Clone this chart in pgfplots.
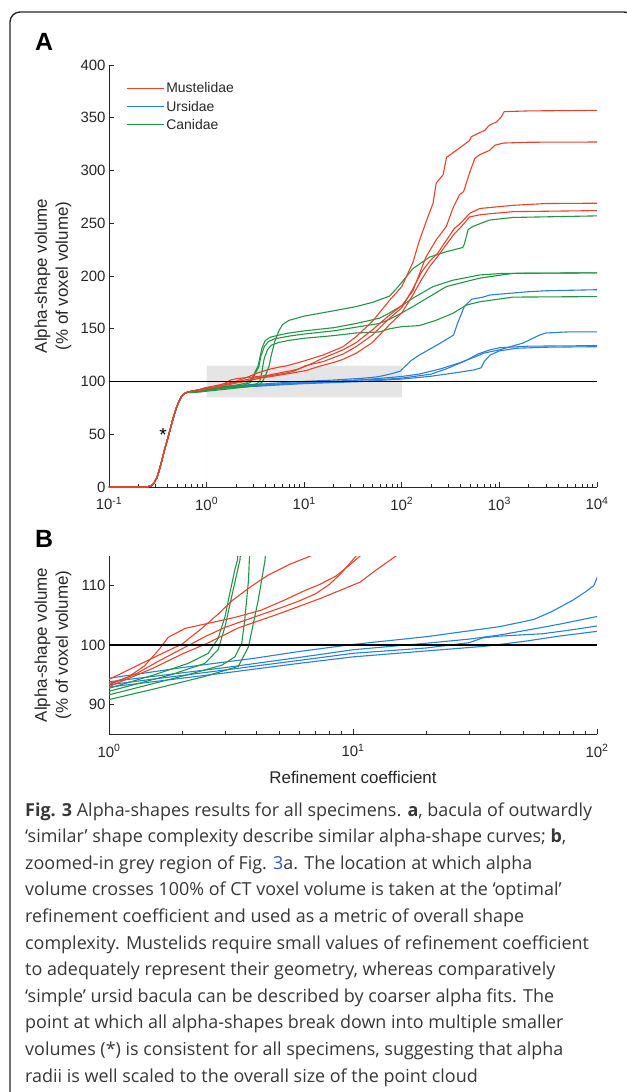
\documentclass[border=0pt]{standalone}
\usepackage{fontspec}
\setmainfont{Liberation Sans}
\newfontfamily\capfont{Open Sans}
\usepackage{pgfplots}
\pgfplotsset{compat=1.18}
\usepackage{pgfplotstable}

\definecolor{mred}{RGB}{228,68,44}
\definecolor{mblue}{RGB}{38,128,220}
\definecolor{mgreen}{RGB}{34,150,72}
\definecolor{axgray}{RGB}{38,38,38}
\definecolor{boxgray}{RGB}{229,229,229}
\definecolor{captxt}{RGB}{55,55,55}
\definecolor{linkblue}{RGB}{40,90,200}

% Mustelidae
\pgfplotstableread[row sep=\\]{x y\\ 0.1 0\\ 0.24 0\\ 0.27 1\\ 0.29 4\\ 0.31 9\\ 0.33 17\\ 0.35 26\\ 0.37 35\\ 0.40 46\\ 0.43 57\\ 0.46 67\\ 0.49 75\\ 0.52 81\\ 0.55 85.5\\ 0.58 88\\ 0.62 89.5\\ 0.7 90.8\\ 0.85 92.5\\ 1 94.2\\ 1.3 96.5\\ 1.6 98.3\\ 2.0 100.2\\ 2.4 102.8\\ 2.8 105.2\\ 3.2 107.5\\ 3.8 109.8\\ 4.5 111.8\\ 5.5 113.6\\ 6.7 115\\ 8 117\\ 10 119.5\\ 15.5 125\\ 25 133\\ 34 142.5\\ 50 157\\ 75 177\\ 100 190\\ 130 213\\ 152 234\\ 185 256\\ 209 269\\ 225 288\\ 265 296\\ 287 312.5\\ 325 316\\ 490 328\\ 516 332\\ 630 336\\ 707 338\\ 790 343\\ 935 346\\ 1050 351\\ 1120 355.8\\ 2000 356.5\\ 10000 357\\}\tabRa
\pgfplotstableread[row sep=\\]{x y\\ 0.1 0\\ 0.24 0\\ 0.27 1\\ 0.29 4\\ 0.31 9\\ 0.33 17\\ 0.35 26\\ 0.37 35\\ 0.40 46\\ 0.43 57\\ 0.46 67\\ 0.49 75\\ 0.52 81\\ 0.55 85.5\\ 0.58 88\\ 0.62 89.5\\ 0.7 90.8\\ 0.85 92\\ 1 93.5\\ 1.2 94.6\\ 1.4 96.5\\ 1.6 99.2\\ 1.75 101.3\\ 2.05 102.8\\ 2.72 103.9\\ 3.39 104.8\\ 4.22 105.9\\ 5.26 107.6\\ 6.36 109.2\\ 7.3 110.2\\ 8.5 111.6\\ 9.5 113.2\\ 10.7 115\\ 15.5 122\\ 25 130\\ 34 136.8\\ 50 149\\ 75 163\\ 100 172\\ 130 186\\ 150 201\\ 177 218\\ 224 234\\ 286 247\\ 333 264\\ 390 277\\ 430 280\\ 500 299\\ 560 311.5\\ 630 315\\ 790 319\\ 900 324\\ 1100 326\\ 2000 326.8\\ 10000 327\\}\tabRb
\pgfplotstableread[row sep=\\]{x y\\ 0.1 0\\ 0.24 0\\ 0.27 1\\ 0.29 4\\ 0.31 9\\ 0.33 17\\ 0.35 26\\ 0.37 35\\ 0.40 46\\ 0.43 57\\ 0.46 67\\ 0.49 75\\ 0.52 81\\ 0.55 85.5\\ 0.58 88\\ 0.62 89.5\\ 0.7 90.8\\ 0.85 91.8\\ 1 93.3\\ 1.3 95.2\\ 1.6 97.3\\ 2.0 99.4\\ 2.5 101.5\\ 3 103\\ 4 104.8\\ 5 106.2\\ 6 107.4\\ 7 108.6\\ 8 110.2\\ 9 112.2\\ 10.3 115\\ 15.5 118.8\\ 25 126\\ 34 133\\ 50 144\\ 75 160\\ 100 170\\ 130 188\\ 160 204\\ 193 214\\ 235 222\\ 287 234\\ 345 245\\ 400 250\\ 496 259.4\\ 630 264\\ 1380 267\\ 3000 268.7\\ 10000 269\\}\tabRc
\pgfplotstableread[row sep=\\]{x y\\ 0.1 0\\ 0.24 0\\ 0.27 1\\ 0.29 4\\ 0.31 9\\ 0.33 17\\ 0.35 26\\ 0.37 35\\ 0.40 46\\ 0.43 57\\ 0.46 67\\ 0.49 75\\ 0.52 81\\ 0.55 85.5\\ 0.58 88\\ 0.62 89.5\\ 0.7 90.8\\ 0.85 91.5\\ 1 93.0\\ 1.5 96.0\\ 2.0 98.5\\ 2.5 100.2\\ 3.4 102.9\\ 5 105.3\\ 7.3 107.8\\ 8.85 109.2\\ 10.7 110.6\\ 12.4 112.6\\ 15 115\\ 20 118\\ 25 121\\ 34 126.7\\ 50 137\\ 75 154\\ 100 165\\ 130 182\\ 160 197\\ 193 209\\ 235 219\\ 287 230\\ 345 240\\ 400 246\\ 496 256\\ 630 258\\ 800 259\\ 1380 261\\ 10000 262\\}\tabRd

% Ursidae
\pgfplotstableread[row sep=\\]{x y\\ 0.1 0\\ 0.24 0\\ 0.27 1\\ 0.29 4\\ 0.31 9\\ 0.33 17\\ 0.35 26\\ 0.37 35\\ 0.40 46\\ 0.43 57\\ 0.46 67\\ 0.49 75\\ 0.52 81\\ 0.55 85.5\\ 0.58 88\\ 0.62 89.5\\ 0.7 90.8\\ 0.85 92.5\\ 1 94.4\\ 2 96.2\\ 4 97.8\\ 6 98.9\\ 10 100.1\\ 20 101.4\\ 40 103.1\\ 55 104.3\\ 65 105.6\\ 80 107.6\\ 90 109\\ 97 110\\ 100 111.3\\ 125 120\\ 151 125\\ 244 136\\ 339 144\\ 372 155\\ 437 171\\ 520 178\\ 680 180\\ 800 182\\ 1900 185\\ 3000 186\\ 10000 187\\}\tabBa
\pgfplotstableread[row sep=\\]{x y\\ 0.1 0\\ 0.24 0\\ 0.27 1\\ 0.29 4\\ 0.31 9\\ 0.33 17\\ 0.35 26\\ 0.37 35\\ 0.40 46\\ 0.43 57\\ 0.46 67\\ 0.49 75\\ 0.52 81\\ 0.55 85.5\\ 0.58 88\\ 0.62 89.5\\ 0.7 90.8\\ 0.85 92\\ 1 93.8\\ 3 96.2\\ 6 97.9\\ 10 99.2\\ 20 100.3\\ 30 101\\ 40 101.7\\ 55 102.7\\ 70 103.5\\ 100 104.8\\ 150 107\\ 250 112\\ 400 118\\ 550 123\\ 700 127\\ 1000 130\\ 1750 136.5\\ 2580 144\\ 3000 146\\ 5000 147\\ 10000 147\\}\tabBb
\pgfplotstableread[row sep=\\]{x y\\ 0.1 0\\ 0.24 0\\ 0.27 1\\ 0.29 4\\ 0.31 9\\ 0.33 17\\ 0.35 26\\ 0.37 35\\ 0.40 46\\ 0.43 57\\ 0.46 67\\ 0.49 75\\ 0.52 81\\ 0.55 85.5\\ 0.58 88\\ 0.62 89.5\\ 0.7 90.8\\ 0.85 91.8\\ 1 93.3\\ 3 95.8\\ 6 97.4\\ 10 98.6\\ 20 99.5\\ 30 100.4\\ 34 101.2\\ 40 101.5\\ 60 101.9\\ 80 102.6\\ 100 103.2\\ 200 107\\ 286 112\\ 457 120\\ 600 126\\ 800 130\\ 1000 132\\ 2000 133.5\\ 10000 134\\}\tabBc
\pgfplotstableread[row sep=\\]{x y\\ 0.1 0\\ 0.24 0\\ 0.27 1\\ 0.29 4\\ 0.31 9\\ 0.33 17\\ 0.35 26\\ 0.37 35\\ 0.40 46\\ 0.43 57\\ 0.46 67\\ 0.49 75\\ 0.52 81\\ 0.55 85.5\\ 0.58 88\\ 0.62 89.5\\ 0.7 90.8\\ 0.85 91.5\\ 1 92.9\\ 3 95.3\\ 6 96.9\\ 10 98.0\\ 20 99.0\\ 35 99.8\\ 50 100.6\\ 70 101.5\\ 100 102.3\\ 200 105\\ 400 109\\ 550 111\\ 650 113\\ 700 119\\ 800 125\\ 1000 129\\ 1500 131.5\\ 3000 132.5\\ 10000 133\\}\tabBd

% Canidae
\pgfplotstableread[row sep=\\]{x y\\ 0.1 0\\ 0.24 0\\ 0.27 1\\ 0.29 4\\ 0.31 9\\ 0.33 17\\ 0.35 26\\ 0.37 35\\ 0.40 46\\ 0.43 57\\ 0.46 67\\ 0.49 75\\ 0.52 81\\ 0.55 85.5\\ 0.58 88\\ 0.62 89.5\\ 0.7 89.5\\ 0.85 90\\ 1 90.8\\ 1.5 92.5\\ 2.47 94.7\\ 3.39 96.4\\ 3.73 99.7\\ 4.09 107.6\\ 4.36 114.3\\ 4.6 125\\ 5 138\\ 5.5 148\\ 6 154\\ 7 158\\ 10 162\\ 20 167\\ 34 171\\ 50 175\\ 75 181\\ 88 188\\ 100 194\\ 130 207\\ 193 218\\ 286 223\\ 420 227\\ 437 230\\ 478 244\\ 535 247\\ 790 253\\ 1380 255.5\\ 10000 257\\}\tabGa
\pgfplotstableread[row sep=\\]{x y\\ 0.1 0\\ 0.24 0\\ 0.27 1\\ 0.29 4\\ 0.31 9\\ 0.33 17\\ 0.35 26\\ 0.37 35\\ 0.40 46\\ 0.43 57\\ 0.46 67\\ 0.49 75\\ 0.52 81\\ 0.55 85.5\\ 0.58 88\\ 0.62 89.5\\ 0.7 90.3\\ 0.85 91.5\\ 1 92.7\\ 1.54 95\\ 2.11 96.9\\ 2.55 98.6\\ 2.8 101.1\\ 2.99 104.8\\ 3.13 108.8\\ 3.28 112.7\\ 3.36 114.3\\ 3.5 122\\ 3.7 132\\ 4.0 139\\ 4.5 142\\ 5.5 144\\ 7 146\\ 10 148\\ 20 151\\ 34 155\\ 59 160\\ 75 165\\ 100 172\\ 130 179\\ 209 190\\ 333 196\\ 630 201\\ 1100 202.5\\ 10000 203\\}\tabGb
\pgfplotstableread[row sep=\\]{x y\\ 0.1 0\\ 0.24 0\\ 0.27 1\\ 0.29 4\\ 0.31 9\\ 0.33 17\\ 0.35 26\\ 0.37 35\\ 0.40 46\\ 0.43 57\\ 0.46 67\\ 0.49 75\\ 0.52 81\\ 0.55 85.5\\ 0.58 88\\ 0.62 89.5\\ 0.7 90\\ 0.85 91\\ 1 92.2\\ 1.8 95\\ 2.47 96.9\\ 2.8 99.2\\ 2.99 103.1\\ 3.18 108.1\\ 3.44 114.3\\ 3.6 124\\ 3.9 133\\ 4.3 138\\ 5 140.5\\ 7 143\\ 10 145\\ 20 148\\ 34 151.5\\ 59 155\\ 75 159\\ 100 165\\ 130 171\\ 286 190\\ 630 198\\ 1380 202.5\\ 10000 203\\}\tabGc
\pgfplotstableread[row sep=\\]{x y\\ 0.1 0\\ 0.24 0\\ 0.27 1\\ 0.29 4\\ 0.31 9\\ 0.33 17\\ 0.35 26\\ 0.37 35\\ 0.40 46\\ 0.43 57\\ 0.46 67\\ 0.49 75\\ 0.52 81\\ 0.55 85.5\\ 0.58 88\\ 0.62 89.5\\ 0.7 89.8\\ 0.85 90.5\\ 1 91.6\\ 2.11 95\\ 2.9 96.6\\ 3.28 98.0\\ 3.5 100.3\\ 3.6 104.2\\ 3.73 110.9\\ 3.76 114.3\\ 3.9 122\\ 4.2 130\\ 4.6 134.5\\ 5.5 137\\ 7 139\\ 10 141\\ 20 143.5\\ 34 146\\ 59 147\\ 75 150\\ 100 152\\ 151 153\\ 224 158\\ 333 164.6\\ 460 172.5\\ 630 175.6\\ 1380 180\\ 10000 180.5\\}\tabGd

\tikzset{
  mus/.style={color=mred, line width=1.1bp},
  urs/.style={color=mblue, line width=1.1bp},
  can/.style={color=mgreen, line width=1.1bp},
}
\newcommand\legfont{\fontsize{14}{16}\selectfont\color{axgray}}

\begin{document}
\begin{tikzpicture}
\useasboundingbox (0,0) rectangle (627bp,-1092bp);
\draw[line width=1.4bp, black!85, rounded corners=10bp] (10bp,-12bp) rectangle (634bp,-1120bp);

\node[anchor=base west, inner sep=0, font=\bfseries\fontsize{25}{25}\selectfont] at (35bp,-50bp) {A};
\node[anchor=base west, inner sep=0, font=\bfseries\fontsize{25}{25}\selectfont] at (35bp,-547bp) {B};

% panel A
\begin{axis}[scale only axis, width=488bp, height=422bp, xmode=log,
  at={(109bp,-487bp)}, anchor=south west,
  axis lines=left, axis line style={-, axgray, line width=0.8bp},
  tick align=inside,
  tick style={axgray, line width=0.7bp},
  major tick length=5bp, minor tick length=3bp,
  tick label style={font=\fontsize{15}{17}\selectfont, color=axgray},
  xticklabel style={yshift=-7bp},
  /pgf/number format/assume math mode=true,
  ylabel={Alpha-shape volume\\(\% of voxel volume)},
  ylabel style={align=center, font=\fontsize{17}{21}\selectfont, color=axgray,
    at={(axis description cs:-0.1148,0.5)}, anchor=center},
  xmin=0.1, xmax=10000, ymin=0, ymax=400,
  xtick={0.1,1,10,100,1000,10000},
  xticklabels={10\textsuperscript{-1},10\textsuperscript{0},10\textsuperscript{1},10\textsuperscript{2},10\textsuperscript{3},10\textsuperscript{4}},
  ytick={0,50,...,400},
  legend cell align=left,
  legend style={draw=none, fill=none,
    at={(axis description cs:0.035,0.963)}, anchor=north west, row sep=2.5bp,
    inner sep=0pt},
  legend image code/.code={\draw[#1] (0bp,0bp) -- (37bp,0bp);}]
\addplot[fill=boxgray, draw=none, forget plot] coordinates {(1,85) (100,85) (100,115) (1,115)} \closedcycle;
\addplot[urs, forget plot] table {\tabBa};
\addplot[urs, forget plot] table {\tabBb};
\addplot[urs, forget plot] table {\tabBc};
\addplot[urs, forget plot] table {\tabBd};
\addplot[can, forget plot] table {\tabGa};
\addplot[can, forget plot] table {\tabGb};
\addplot[can, forget plot] table {\tabGc};
\addplot[can, forget plot] table {\tabGd};
\addplot[mus, forget plot] table {\tabRa};
\addplot[mus, forget plot] table {\tabRb};
\addplot[mus, forget plot] table {\tabRc};
\addplot[mus, forget plot] table {\tabRd};
\addplot[black, line width=1.3bp, forget plot] coordinates {(0.1,100) (10000,100)};
\node[font=\fontsize{19}{19}\selectfont] at (axis cs:0.357,49) {*};
\addlegendimage{mus}\addlegendentry{\legfont Mustelidae}
\addlegendimage{urs}\addlegendentry{\legfont Ursidae}
\addlegendimage{can}\addlegendentry{\legfont Canidae}
\end{axis}

% panel B
\begin{axis}[scale only axis, width=488bp, height=178bp, xmode=log,
  at={(109bp,-734bp)}, anchor=south west,
  axis lines=left, axis line style={-, axgray, line width=0.8bp},
  tick align=inside,
  tick style={axgray, line width=0.7bp},
  major tick length=5bp, minor tick length=3bp,
  tick label style={font=\fontsize{15}{17}\selectfont, color=axgray},
  xticklabel style={yshift=-7bp},
  /pgf/number format/assume math mode=true,
  ylabel={Alpha-shape volume\\(\% of voxel volume)},
  ylabel style={align=center, font=\fontsize{17}{21}\selectfont, color=axgray,
    at={(axis description cs:-0.1148,0.5)}, anchor=center},
  xmin=1, xmax=100, ymin=85, ymax=115,
  xtick={1,10,100},
  xticklabels={10\textsuperscript{0},10\textsuperscript{1},10\textsuperscript{2}},
  ytick={90,100,110},
  xlabel={Refinement coefficient},
  xlabel style={font=\fontsize{17}{20}\selectfont, color=axgray,
    at={(axis description cs:0.5,-0.2416)}, anchor=center}]
\addplot[urs] table {\tabBa};
\addplot[urs] table {\tabBb};
\addplot[urs] table {\tabBc};
\addplot[urs] table {\tabBd};
\addplot[can] table {\tabGa};
\addplot[can] table {\tabGb};
\addplot[can] table {\tabGc};
\addplot[can] table {\tabGd};
\addplot[mus] table {\tabRa};
\addplot[mus] table {\tabRb};
\addplot[mus] table {\tabRc};
\addplot[mus] table {\tabRd};
\addplot[black, line width=1.3bp] coordinates {(1,100) (100,100)};
\end{axis}

% caption
\begin{scope}[every node/.style={anchor=base west, inner sep=0, font=\capfont\fontsize{18}{19}\selectfont, text=captxt}]
\node at (25bp,-816bp) {\textbf{Fig. 3} Alpha-shapes results for all specimens. \textbf{a}, bacula of outwardly};
\node at (25bp,-842.6bp) {‘similar’ shape complexity describe similar alpha-shape curves; \textbf{b},};
\node at (25bp,-869.2bp) {zoomed-in grey region of Fig. \textcolor{linkblue}{3}a. The location at which alpha};
\node at (25bp,-895.8bp) {volume crosses 100\% of CT voxel volume is taken at the ‘optimal’};
\node at (25bp,-922.4bp) {refinement coefficient and used as a metric of overall shape};
\node at (25bp,-949bp) {complexity. Mustelids require small values of refinement coefficient};
\node at (25bp,-975.6bp) {to adequately represent their geometry, whereas comparatively};
\node at (25bp,-1002.2bp) {‘simple’ ursid bacula can be described by coarser alpha fits. The};
\node at (25bp,-1028.8bp) {point at which all alpha-shapes break down into multiple smaller};
\node at (25bp,-1055.4bp) {volumes (*) is consistent for all specimens, suggesting that alpha};
\node at (25bp,-1082bp) {radii is well scaled to the overall size of the point cloud};
\end{scope}
\end{tikzpicture}
\end{document}
